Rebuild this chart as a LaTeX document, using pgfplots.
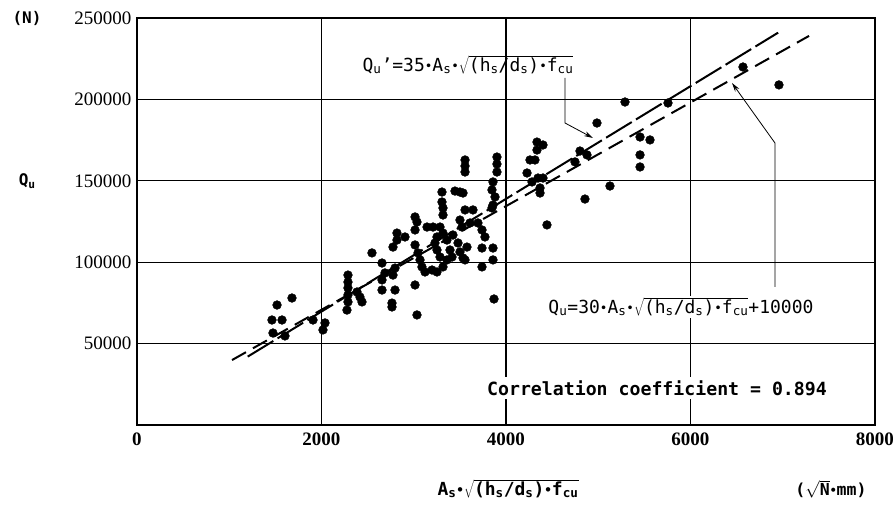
\documentclass[border=0pt]{standalone}
\usepackage{fontspec}
\setmainfont{Liberation Sans}
\newfontfamily\tickfont{Liberation Serif}
\newfontfamily\cormono{DejaVu Sans Mono}
\usepackage{graphicx}
\usepackage{pgfplots}
\pgfplotsset{compat=1.18}
\usetikzlibrary{arrows.meta}
\newcommand{\bu}{\raisebox{0.1ex}{\scalebox{0.7}{\textbullet}}}
\begin{document}
\begin{tikzpicture}
\path[use as bounding box] (-137pt,-79pt) rectangle (756pt,425pt);
\begin{axis}[
  at={(0pt,0pt)}, anchor=south west,
  scale only axis, width=738pt, height=407pt,
  xmin=0, xmax=8000, ymin=0, ymax=250000,
  xtick={0,2000,4000,6000,8000},
  xticklabels={0,2000,4000,6000,8000},
  ytick={50000,100000,150000,200000,250000},
  yticklabels={50000,100000,150000,200000,250000},
  grid=major, major grid style={black, line width=1.1pt},
  axis line style={line width=1.9pt},
  tick style={draw=none},
  scaled ticks=false,
  yticklabel style={font=\tickfont\fontsize{19}{19}\selectfont, xshift=-2pt},
  xticklabel style={font=\tickfont\bfseries\fontsize{19}{19}\selectfont, yshift=-4pt},
  clip=false,
]
\addplot[only marks, mark=*, mark size=4.4pt, black] coordinates {
(1518,73700) (1463,64500) (1572,64500) (1474,56500) (1604,54700) (1680,78000)
(1908,64500) (2038,62700) (2016,58400)
(2287,92100) (2287,87800) (2287,84200) (2287,79900) (2287,75600) (2276,70600)
(2385,81700) (2417,78600) (2439,75600) (2547,105700)
(2656,99500) (2688,93400) (2656,89100) (2656,82900)
(2797,96400) (2775,92100) (2797,82900) (2764,74900) (2764,72500)
(2818,117900) (2775,109300) (2818,113600) (2905,115500)
(3014,127800) (3035,124700) (3014,119800)
(3014,110600) (3046,105700) (3068,101400) (3089,97100) (3122,94000) (3198,95200)
(3252,94000) (3317,97100) (3360,101400) (3415,103200)
(3014,86000) (3035,67600)
(3144,121600) (3209,121600) (3285,121600) (3317,117900)
(3252,115500) (3230,111800) (3252,107500) (3285,103200)
(3360,113600) (3393,107500) (3425,116700) (3480,111800) (3501,106300) (3577,109300) (3556,101400)
(3306,143100) (3306,137000) (3317,133300) (3317,129000)
(3447,143700) (3501,143100) (3534,142500)
(3556,162800) (3556,159100) (3556,155400)
(3556,132100) (3642,132100) (3501,125900) (3523,121600) (3610,124100) (3696,124100) (3740,119800) (3772,115500)
(3740,108700) (3859,108700) (3740,97100) (3859,101400) (3870,77400)
(3902,164600) (3902,160300) (3902,155400) (3859,149300) (3848,144400) (3881,140100) (3859,135100) (3848,133300)
(4228,154800) (4282,149300) (4347,151700) (4401,151700) (4369,145600) (4369,142500)
(4336,173800) (4401,172000) (4336,168900) (4260,162800) (4314,162800)
(4444,122900)
(4748,161600) (4802,168300) (4878,165900) (4856,138800)
(4986,185500) (5127,146800) (5290,198400)
(5453,176900) (5561,175100) (5453,165900) (5453,158500)
(5756,197800) (6569,219900) (6959,208900) (3534,102600)
};
\addplot[black, line width=2pt, dash pattern=on 30pt off 5pt] coordinates {(1200,42000) (6950,241000)};
\addplot[black, line width=2pt, dash pattern=on 16pt off 8pt] coordinates {(1030,39900) (7285,239000)};
% annotations
\draw[-{Stealth[length=9pt,width=5pt]}, line width=0.8pt] (axis cs:4640,213200) -- (axis cs:4640,185500) -- (axis cs:4943,176300);
\draw[-{Stealth[length=9pt,width=5pt]}, line width=0.8pt] (axis cs:6916,84800) -- (axis cs:6916,173200) -- (axis cs:6450,210100);
\node[font=\cormono\fontsize{18}{18}\selectfont, inner sep=1pt] at (axis cs:3588,221100)
  {Q\textsubscript{u}’=35\bu A\textsubscript{s}\bu$\sqrt{\mbox{(h\textsubscript{s}/d\textsubscript{s})\bu f\textsubscript{cu}}}$};
\node[font=\cormono\fontsize{18}{18}\selectfont, fill=white, inner sep=2pt] at (axis cs:5897,72500)
  {Q\textsubscript{u}=30\bu A\textsubscript{s}\bu$\sqrt{\mbox{(h\textsubscript{s}/d\textsubscript{s})\bu f\textsubscript{cu}}}$+10000};
\node[font=\cormono\bfseries\fontsize{18.2}{18.2}\selectfont, fill=white, inner sep=3pt] at (axis cs:5637,22700)
  {Correlation coefficient = 0.894};
\node[font=\cormono\bfseries\fontsize{16}{16}\selectfont] at (axis cs:-1192,250000) {(N)};
\node[font=\cormono\bfseries\fontsize{16}{16}\selectfont] at (axis cs:-1190,149900) {Q\textsubscript{u}};
\node[font=\cormono\bfseries\fontsize{18}{18}\selectfont] at (axis cs:4022,-39300)
  {A\textsubscript{s}\bu$\sqrt{\mbox{(h\textsubscript{s}/d\textsubscript{s})\bu f\textsubscript{cu}}}$};
\node[font=\cormono\bfseries\fontsize{16.5}{16.5}\selectfont] at (axis cs:7523,-39300)
  {($\sqrt{\mbox{N}}$\bu mm)};
\end{axis}
\end{tikzpicture}
\end{document}
